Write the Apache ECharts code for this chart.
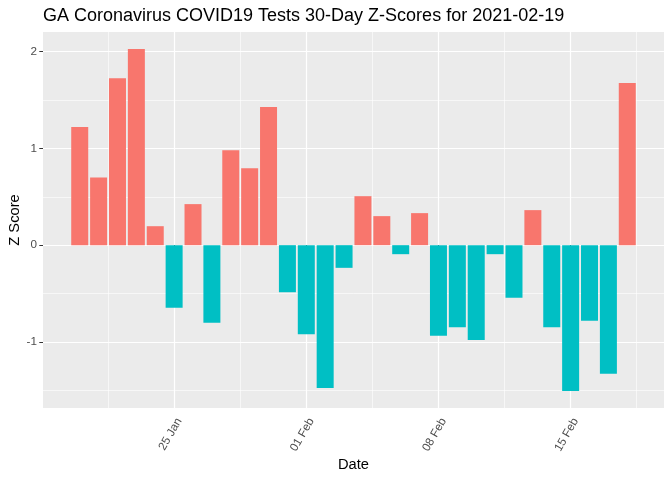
<!DOCTYPE html>
<html>
<head>
<meta charset="utf-8">
<script src="https://cdn.jsdelivr.net/npm/echarts@6/dist/echarts.min.js"></script>
<style>html,body{margin:0;padding:0;background:#fff;}#c{width:672px;height:480px;}</style>
</head>
<body>
<div id="c"></div>
<script>
// ---- data ----
const dates = [
  '2021-01-20','2021-01-21','2021-01-22','2021-01-23','2021-01-24','2021-01-25','2021-01-26',
  '2021-01-27','2021-01-28','2021-01-29','2021-01-30','2021-01-31','2021-02-01','2021-02-02',
  '2021-02-03','2021-02-04','2021-02-05','2021-02-06','2021-02-07','2021-02-08','2021-02-09',
  '2021-02-10','2021-02-11','2021-02-12','2021-02-13','2021-02-14','2021-02-15','2021-02-16',
  '2021-02-17','2021-02-18'
];
const zScores = [
  1.22, 0.70, 1.725, 2.025, 0.196, -0.647, 0.424,
  -0.802, 0.981, 0.795, 1.426, -0.486, -0.919, -1.474,
  -0.234, 0.506, 0.30, -0.093, 0.331, -0.936, -0.847,
  -0.978, -0.093, -0.544, 0.362, -0.847, -1.505, -0.781,
  -1.329, 1.674
];
const tickDates = ['2021-01-25','2021-02-01','2021-02-08','2021-02-15'];
const tickLabels = ['25 Jan','01 Feb','08 Feb','15 Feb'];
const minorTickDates = ['2021-01-21T12:00:00Z','2021-01-28T12:00:00Z','2021-02-04T12:00:00Z','2021-02-11T12:00:00Z','2021-02-18T12:00:00Z'];
const yTicks = [-1, 0, 1, 2];
const yMinorTicks = [-1.5, -0.5, 0.5, 1.5];

// ---- helpers ----
const origin = Date.UTC(2021, 0, 18);
function dayNum(s) {
  const t = s.length > 10 ? Date.parse(s) : Date.parse(s + 'T00:00:00Z');
  return (t - origin) / 86400000;
}
const xs = dates.map(dayNum);
const majorX = tickDates.map(dayNum);
const minorX = minorTickDates.map(dayNum);

// ggplot-like expansion: bars width 0.9, expand 5%
const barHalf = 0.45;
const xLo = Math.min(...xs) - barHalf, xHi = Math.max(...xs) + barHalf;
const xPad = (xHi - xLo) * 0.05;
const yLo = Math.min(0, ...zScores), yHi = Math.max(0, ...zScores);
const yPad = (yHi - yLo) * 0.05;

const RED = '#F8766D', TEAL = '#00BFC4';
const font = 'Liberation Sans, Arial, sans-serif';

const chart = echarts.init(document.getElementById('c'), null, {renderer: 'canvas'});
chart.setOption({
  animation: false,
  backgroundColor: '#ffffff',
  title: {
    text: 'GA Coronavirus COVID19 Tests 30-Day Z-Scores for 2021-02-19',
    left: 43, top: 7, padding: 0,
    textStyle: {fontFamily: font, fontSize: 18, fontWeight: 'normal', color: '#000'}
  },
  grid: {left: 43, right: 8, top: 32, bottom: 72, show: true, backgroundColor: '#EBEBEB', borderWidth: 0,
         containLabel: false, outerBoundsMode: 'none'},
  xAxis: [
    {
      type: 'value', min: xLo - xPad, max: xHi + xPad,
      name: 'Date', nameLocation: 'middle', nameGap: 49, nameMoveOverlap: false,
      nameTextStyle: {fontFamily: font, fontSize: 14.7, color: '#000'},
      axisLine: {show: false},
      axisTick: {show: true, customValues: majorX, length: 3.7, lineStyle: {color: '#333333', width: 1}},
      axisLabel: {
        customValues: majorX, rotate: 60, margin: 8, color: '#4D4D4D',
        align: 'right', verticalAlign: 'top',
        fontFamily: font, fontSize: 11.7,
        formatter: v => { const i = majorX.findIndex(m => Math.abs(m - v) < 1e-6); return i >= 0 ? tickLabels[i] : ''; }
      },
      splitLine: {show: true, lineStyle: {color: '#ffffff', width: 1.2}}
    },
    {
      type: 'value', min: xLo - xPad, max: xHi + xPad, show: true,
      axisLine: {show: false}, axisLabel: {show: false},
      axisTick: {show: false, customValues: minorX},
      splitLine: {show: true, lineStyle: {color: '#ffffff', width: 0.6}}
    }
  ],
  yAxis: [
    {
      type: 'value', min: yLo - yPad, max: yHi + yPad,
      name: 'Z Score', nameLocation: 'middle', nameGap: 21, nameRotate: 90, nameMoveOverlap: false,
      nameTextStyle: {fontFamily: font, fontSize: 14.7, color: '#000'},
      axisLine: {show: false},
      axisTick: {show: true, customValues: yTicks, length: 3.7, lineStyle: {color: '#333333', width: 1}},
      axisLabel: {customValues: yTicks, margin: 6, color: '#4D4D4D', fontFamily: font, fontSize: 11.7},
      splitLine: {show: true, lineStyle: {color: '#ffffff', width: 1.2}}
    },
    {
      type: 'value', min: yLo - yPad, max: yHi + yPad, position: 'left', show: true,
      axisLine: {show: false}, axisLabel: {show: false},
      axisTick: {show: false, customValues: yMinorTicks},
      splitLine: {show: true, lineStyle: {color: '#ffffff', width: 0.6}}
    }
  ],
  series: [{
    type: 'bar', xAxisIndex: 0, yAxisIndex: 0,
    barWidth: 17,
    data: xs.map((x, i) => [x, zScores[i]]),
    itemStyle: {color: p => (p.value[1] >= 0 ? RED : TEAL)}
  }]
});
</script>
</body>
</html>
